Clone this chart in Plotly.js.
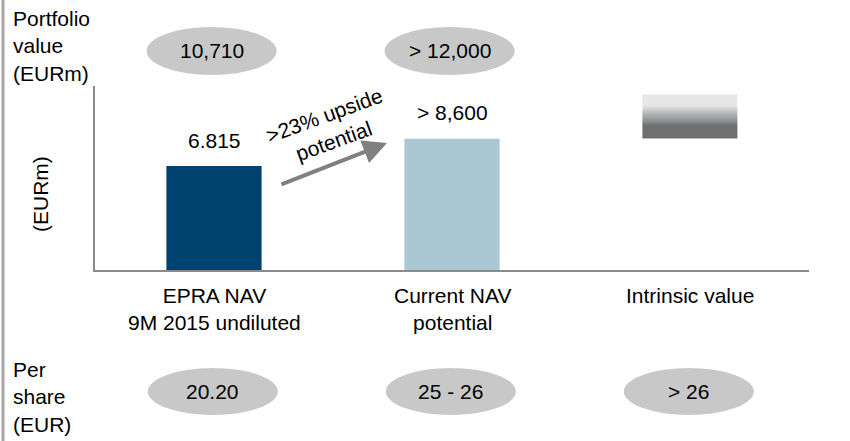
<!DOCTYPE html>
<html>
<head>
<meta charset="utf-8">
<script src="https://cdn.plot.ly/plotly-3.0.1.min.js"></script>
<style>html,body{margin:0;padding:0;background:#fff;}#chart{width:850px;height:441px;}</style>
</head>
<body>
<div id="chart"></div>
<script>
// ---- data ----
const categories = ['EPRA NAV<br>9M 2015 undiluted', 'Current NAV<br>potential', 'Intrinsic value'];
const navValues = [6815, 8600];
const navLabels = ['6.815', '> 8,600'];
const intrinsicRange = [8600, 11500];      // floating gradient bar (base, top)
const portfolioLabels = ['10,710', '> 12,000'];
const perShareLabels = ['20.20', '25 - 26', '> 26'];
const upsideText = '>23% upside<br>potential';

// ---- layout helpers ----
const L = 95, R = 41, T = 86, B = 171, W = 850, H = 441;
const PW = W - L - R, PH = H - T - B;
const px2paperX = px => (px - L) / PW;
const py2paperY = py => (H - B - py) / PH;
const FONT = 'Liberation Sans, Arial, sans-serif';
const FS = 21;

// gradient of the intrinsic-value bar (style, not data): z = fraction measured from the top
const nSteps = 40;
const gy = [], gz = [];
for (let i = 0; i <= nSteps; i++) gy.push(intrinsicRange[0] + (intrinsicRange[1] - intrinsicRange[0]) * i / nSteps);
for (let i = 0; i < nSteps; i++) gz.push([1 - (i + 0.5) / nSteps]);

const traces = [
  {
    type: 'bar', x: [0, 1], y: navValues, width: 0.4,
    marker: {color: ['#00426f', '#abc7d4'], line: {width: 0}},
    hoverinfo: 'skip'
  },
  {
    type: 'heatmap', x: [2 - 0.2, 2 + 0.2], y: gy, z: gz,
    zmin: 0, zmax: 1, showscale: false, hoverinfo: 'skip',
    colorscale: [[0, '#e6e7e6'], [0.24, '#e6e7e6'], [0.72, '#6e6f71'], [1, '#6e6f71']]
  }
];

const ann = [];
navLabels.forEach((t, i) => ann.push({x: i, y: navValues[i], xref: 'x', yref: 'y', text: t, showarrow: false, yanchor: 'middle', yshift: 26, font: {family: FONT, size: FS, color: '#000'}}));
categories.forEach((t, i) => ann.push({x: i, y: py2paperY(282), xref: 'x', yref: 'paper', text: t, showarrow: false, yanchor: 'top', align: 'center', font: {family: FONT, size: FS, color: '#000'}}));
const shapes = [];
portfolioLabels.forEach((t, i) => {
  shapes.push({type: 'circle', xref: 'x', yref: 'paper', xsizemode: 'pixel', ysizemode: 'pixel', xanchor: i - 0.01, yanchor: py2paperY(51), x0: -65, x1: 65, y0: -24, y1: 24, fillcolor: '#c8c8c8', line: {width: 0}, layer: 'above'});
  ann.push({x: i - 0.01, y: py2paperY(51), xref: 'x', yref: 'paper', text: t, showarrow: false, yanchor: 'middle', font: {family: FONT, size: FS, color: '#000'}});
});
perShareLabels.forEach((t, i) => {
  shapes.push({type: 'circle', xref: 'x', yref: 'paper', xsizemode: 'pixel', ysizemode: 'pixel', xanchor: i - 0.005, yanchor: py2paperY(391.5), x0: -65, x1: 65, y0: -23.5, y1: 23.5, fillcolor: '#c8c8c8', line: {width: 0}, layer: 'above'});
  ann.push({x: i - 0.005, y: py2paperY(391.5), xref: 'x', yref: 'paper', text: t, showarrow: false, yanchor: 'middle', font: {family: FONT, size: FS, color: '#000'}});
});
ann.push({x: px2paperX(11), y: py2paperY(46), xref: 'paper', yref: 'paper', text: 'Portfolio<br>value<br>(EURm)', showarrow: false, xanchor: 'left', yanchor: 'middle', align: 'left', font: {family: FONT, size: FS, color: '#000'}});
ann.push({x: px2paperX(11), y: py2paperY(397), xref: 'paper', yref: 'paper', text: 'Per<br>share<br>(EUR)', showarrow: false, xanchor: 'left', yanchor: 'middle', align: 'left', font: {family: FONT, size: FS, color: '#000'}});
ann.push({x: px2paperX(40), y: py2paperY(194), xref: 'paper', yref: 'paper', text: '(EURm)', textangle: -90, showarrow: false, xanchor: 'center', yanchor: 'middle', font: {family: FONT, size: FS, color: '#000'}});
ann.push({x: 0.727, y: 8322, ax: 0.277, ay: 5570, xref: 'x', yref: 'y', axref: 'x', ayref: 'y', text: '', showarrow: true, arrowhead: 2, arrowsize: 1.2, arrowwidth: 4, arrowcolor: '#808080'});
ann.push({x: 0.483, y: 9305, xref: 'x', yref: 'y', text: upsideText, textangle: -20, showarrow: false, font: {family: FONT, size: FS, color: '#000'}});

shapes.push({type: 'line', xref: 'paper', yref: 'paper', x0: px2paperX(3), x1: px2paperX(3), y0: py2paperY(0), y1: py2paperY(441), line: {color: '#a6a6a6', width: 3}});

const layout = {
  width: W, height: H,
  margin: {l: L, r: R, t: T, b: B, pad: 0},
  paper_bgcolor: '#fff', plot_bgcolor: '#fff',
  showlegend: false,
  xaxis: {type: 'linear', range: [-0.5, 2.5], showline: true, linecolor: '#8a8a8a', linewidth: 2, showgrid: false, zeroline: false, showticklabels: false, ticks: '', fixedrange: true},
  yaxis: {range: [0, 12057], showline: true, linecolor: '#8a8a8a', linewidth: 2, showgrid: false, zeroline: false, showticklabels: false, ticks: '', fixedrange: true},
  annotations: ann,
  shapes: shapes
};

Plotly.newPlot('chart', traces, layout, {displayModeBar: false, staticPlot: true});
</script>
</body>
</html>
